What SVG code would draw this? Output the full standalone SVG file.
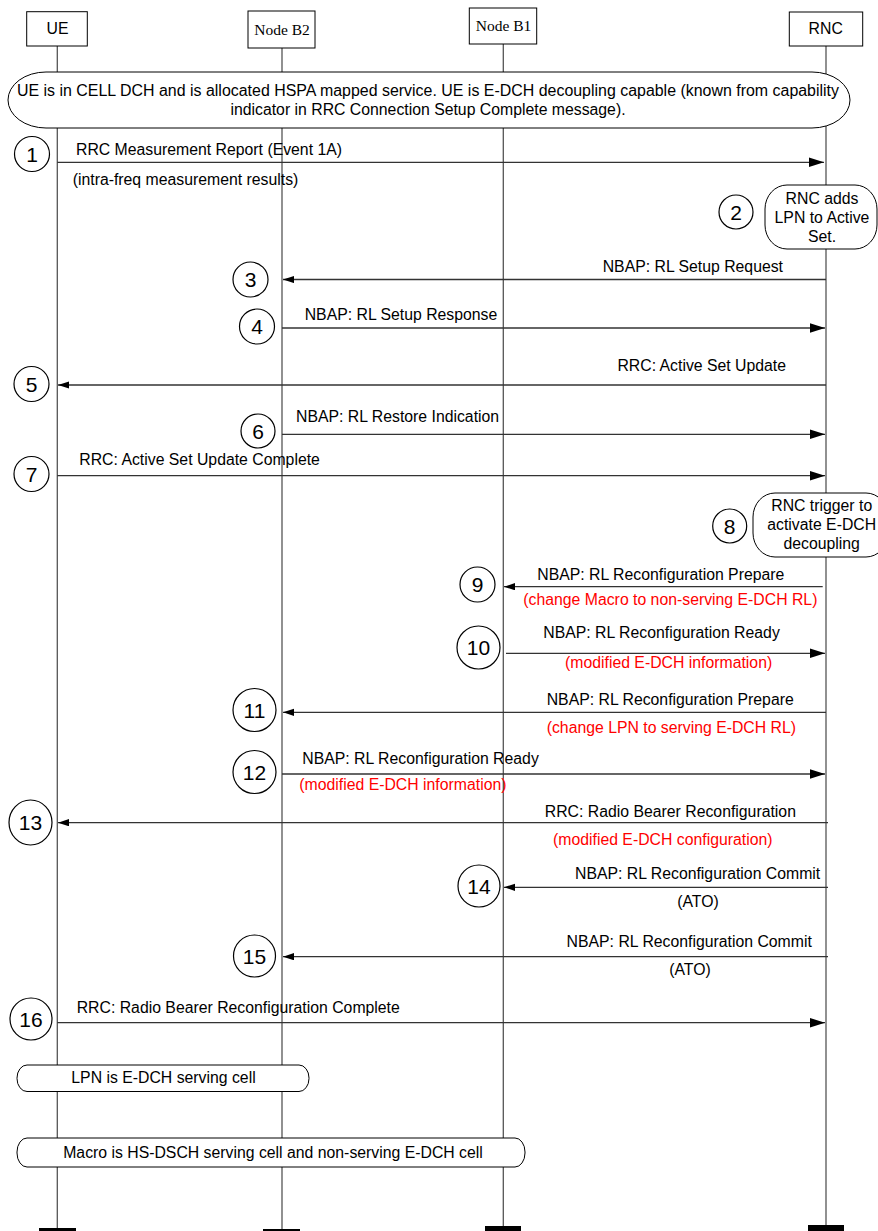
<svg xmlns="http://www.w3.org/2000/svg" width="878" height="1231" viewBox="0 0 878 1231">
<style>
.ll{stroke:#555;stroke-width:1.3;fill:none}
.box{fill:#fff;stroke:#000;stroke-width:1}
.msg{stroke:#333;stroke-width:1.3;fill:none}
.t{font-family:"Liberation Sans",Arial,sans-serif;font-size:15.8px;fill:#000}
.s{font-family:"Liberation Serif","Times New Roman",serif;font-size:15.5px;fill:#000;text-anchor:middle}
.m{text-anchor:middle}
.e{text-anchor:end}
.r{fill:#f00}
.num{font-family:"Liberation Sans",Arial,sans-serif;font-size:21px;text-anchor:middle;fill:#000}
.circ{fill:#fff;stroke:#000;stroke-width:1.2}
.note{fill:#fff;stroke:#000;stroke-width:1}
.bar{fill:#000}
</style>
<defs>
<marker id="ab" markerUnits="userSpaceOnUse" markerWidth="16" markerHeight="10" refX="15" refY="5" orient="auto"><path d="M0,0.3 L15,5 L0,9.7 z" fill="#000"/></marker>
<marker id="as" markerUnits="userSpaceOnUse" markerWidth="12" markerHeight="8" refX="11" refY="3.6" orient="auto"><path d="M0,0 L11,3.6 L0,7.2 z" fill="#000"/></marker>
</defs>
<rect width="878" height="1231" fill="#fff"/>

<g id="lifelines">
<line class="ll" x1="57.3" y1="46" x2="57.3" y2="1228"/>
<line class="ll" x1="282" y1="48" x2="282" y2="1229"/>
<line class="ll" x1="503.3" y1="44" x2="503.3" y2="1226"/>
<line class="ll" x1="826" y1="46" x2="826" y2="1225"/>
</g>

<g id="node-UE"><rect class="box" x="26.7" y="11.7" width="60.6" height="34.3"/><text class="t m" x="57.5" y="33.5">UE</text><rect class="bar" x="39" y="1228" width="37" height="6"/></g>
<g id="node-B2"><rect class="box" x="248" y="11" width="67" height="37"/><text class="s" x="282" y="35">Node B2</text><rect class="bar" x="263" y="1229" width="37" height="5"/></g>
<g id="node-B1"><rect class="box" x="469.3" y="8" width="67.4" height="36"/><text class="s" x="503.5" y="31">Node B1</text><rect class="bar" x="485" y="1226" width="36" height="8"/></g>
<g id="node-RNC"><rect class="box" x="789.3" y="12" width="73.4" height="34"/><text class="t m" x="825.7" y="33.5">RNC</text><rect class="bar" x="808" y="1225" width="36" height="8"/></g>

<g id="banner">
<rect class="note" x="8" y="72" width="842" height="56" rx="38" ry="28"/>
<text class="t m" x="428" y="96" textLength="822" lengthAdjust="spacingAndGlyphs">UE is in CELL DCH and is allocated HSPA mapped service. UE is E-DCH decoupling capable (known from capability</text>
<text class="t m" x="428" y="114.5">indicator in RRC Connection Setup Complete message).</text>
</g>

<g id="note-2">
<rect class="note" x="765" y="185" width="112" height="64" rx="22" ry="24"/>
<text class="t m" x="822" y="204">RNC adds</text>
<text class="t m" x="822" y="223">LPN to Active</text>
<text class="t m" x="822" y="242">Set.</text>
</g>
<g id="note-8">
<rect class="note" x="753" y="493" width="135" height="64" rx="22" ry="24"/>
<text class="t m" x="821.7" y="511">RNC trigger to</text>
<text class="t m" x="821.7" y="530">activate E-DCH</text>
<text class="t m" x="821.7" y="549">decoupling</text>
</g>
<g id="note-lpn">
<rect class="note" x="17" y="1065" width="292" height="26.5" rx="10" ry="13"/>
<text class="t m" x="163.5" y="1083">LPN is E-DCH serving cell</text>
</g>
<g id="note-macro">
<rect class="note" x="17" y="1138" width="508" height="29" rx="10" ry="14"/>
<text class="t m" x="273" y="1158">Macro is HS-DSCH serving cell and non-serving E-DCH cell</text>
</g>

<g id="connectors">
<path class="msg" d="M57.3,162.3 H824" marker-end="url(#ab)"/>
<path class="msg" d="M826,279.5 H283" marker-end="url(#as)"/>
<path class="msg" d="M282,328 H825" marker-end="url(#ab)"/>
<path class="msg" d="M826,385 H58" marker-end="url(#as)"/>
<path class="msg" d="M282,434.3 H825" marker-end="url(#ab)"/>
<path class="msg" d="M57.3,475.7 H825" marker-end="url(#ab)"/>
<path class="msg" d="M822.7,586.7 H504" marker-end="url(#as)"/>
<path class="msg" d="M506,653.3 H825" marker-end="url(#ab)"/>
<path class="msg" d="M826,712.3 H283" marker-end="url(#as)"/>
<path class="msg" d="M282,774 H825" marker-end="url(#ab)"/>
<path class="msg" d="M828,822.7 H58" marker-end="url(#as)"/>
<path class="msg" d="M828,887.3 H504" marker-end="url(#as)"/>
<path class="msg" d="M828,956.7 H283" marker-end="url(#as)"/>
<path class="msg" d="M57.3,1022.7 H825" marker-end="url(#ab)"/>
</g>

<g id="labels">
<text class="t" x="76" y="155">RRC Measurement Report (Event 1A)</text>
<text class="t" x="72.7" y="185">(intra-freq measurement results)</text>
<text class="t e" x="783" y="272">NBAP: RL Setup Request</text>
<text class="t" x="304.7" y="320">NBAP: RL Setup Response</text>
<text class="t e" x="786" y="371">RRC: Active Set Update</text>
<text class="t" x="296" y="421.7">NBAP: RL Restore Indication</text>
<text class="t" x="79.3" y="465">RRC: Active Set Update Complete</text>
<text class="t" x="537.3" y="580">NBAP: RL Reconfiguration Prepare</text>
<text class="t r" x="523.3" y="605">(change Macro to non-serving E-DCH RL)</text>
<text class="t" x="543.3" y="638">NBAP: RL Reconfiguration Ready</text>
<text class="t r" x="565" y="668">(modified E-DCH information)</text>
<text class="t" x="546.7" y="705">NBAP: RL Reconfiguration Prepare</text>
<text class="t r" x="546.7" y="733">(change LPN to serving E-DCH RL)</text>
<text class="t" x="302.3" y="764">NBAP: RL Reconfiguration Ready</text>
<text class="t r" x="299.3" y="790">(modified E-DCH information)</text>
<text class="t" x="544.8" y="816.7">RRC: Radio Bearer Reconfiguration</text>
<text class="t r" x="553" y="845">(modified E-DCH configuration)</text>
<text class="t" x="575" y="879">NBAP: RL Reconfiguration Commit</text>
<text class="t m" x="698" y="907">(ATO)</text>
<text class="t" x="566.6" y="947">NBAP: RL Reconfiguration Commit</text>
<text class="t m" x="690" y="975">(ATO)</text>
<text class="t" x="76.7" y="1013">RRC: Radio Bearer Reconfiguration Complete</text>
</g>

<g id="steps">
<g id="step-1"><circle class="circ" cx="32" cy="154" r="17.5"/><text class="num" x="32" y="161.5">1</text></g>
<g id="step-2"><circle class="circ" cx="736" cy="212" r="17"/><text class="num" x="736" y="219.5">2</text></g>
<g id="step-3"><circle class="circ" cx="250.5" cy="279.5" r="17.5"/><text class="num" x="250.5" y="287">3</text></g>
<g id="step-4"><circle class="circ" cx="257" cy="326.5" r="17.5"/><text class="num" x="257" y="334">4</text></g>
<g id="step-5"><circle class="circ" cx="31.5" cy="384" r="17.5"/><text class="num" x="31.5" y="391.5">5</text></g>
<g id="step-6"><circle class="circ" cx="258" cy="431" r="17"/><text class="num" x="258" y="438.5">6</text></g>
<g id="step-7"><circle class="circ" cx="31.5" cy="474" r="17.5"/><text class="num" x="31.5" y="481.5">7</text></g>
<g id="step-8"><circle class="circ" cx="729.7" cy="526" r="17"/><text class="num" x="729.7" y="533.5">8</text></g>
<g id="step-9"><circle class="circ" cx="477.5" cy="584.5" r="17.5"/><text class="num" x="477.5" y="592">9</text></g>
<g id="step-10"><circle class="circ" cx="478.5" cy="647.5" r="21.5"/><text class="num" x="478.5" y="655">10</text></g>
<g id="step-11"><circle class="circ" cx="254.5" cy="710" r="21.5"/><text class="num" x="254.5" y="717.5">11</text></g>
<g id="step-12"><circle class="circ" cx="254.5" cy="772" r="21.5"/><text class="num" x="254.5" y="779.5">12</text></g>
<g id="step-13"><ellipse class="circ" cx="30.5" cy="822.5" rx="21.5" ry="22.5"/><text class="num" x="30.5" y="830">13</text></g>
<g id="step-14"><circle class="circ" cx="479" cy="886" r="21"/><text class="num" x="479" y="893.5">14</text></g>
<g id="step-15"><circle class="circ" cx="254.5" cy="956" r="21"/><text class="num" x="254.5" y="963.5">15</text></g>
<g id="step-16"><circle class="circ" cx="31" cy="1019" r="21"/><text class="num" x="31" y="1026.5">16</text></g>
</g>
</svg>
